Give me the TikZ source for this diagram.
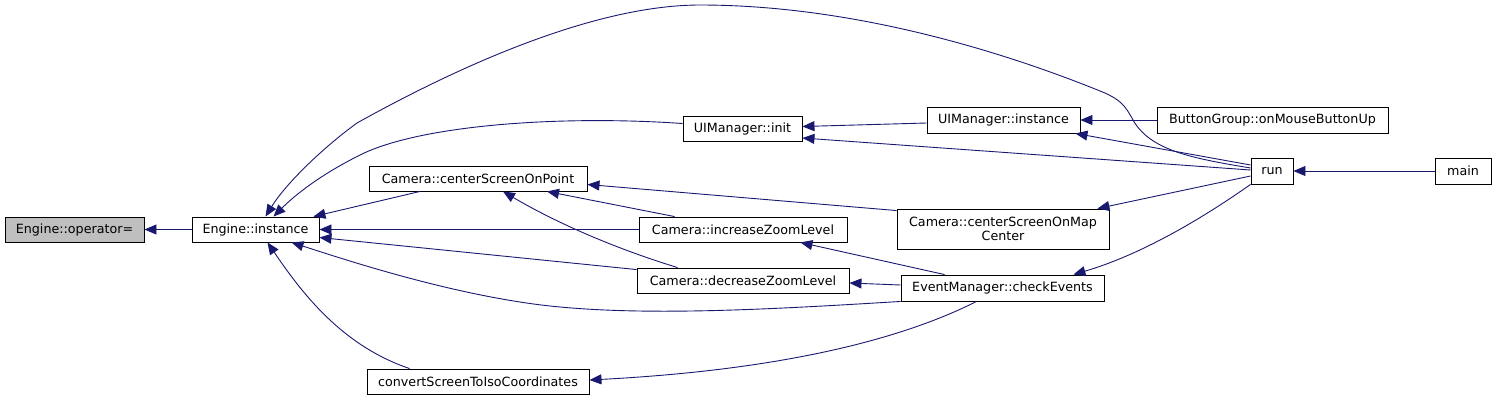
\documentclass[tikz,border=0pt]{standalone}
\usepackage{fontspec}
\setmainfont{DejaVu Sans}
\usetikzlibrary{arrows.meta,calc}
\definecolor{edgeblue}{HTML}{191970}
\definecolor{graybox}{HTML}{BFBFBF}
\begin{document}
\begin{tikzpicture}[x=1pt,y=-1pt,
  box/.style={draw=black,line width=0.9pt,fill=white,inner sep=0pt,
    font=\fontsize{12.7}{14.5}\selectfont,align=center},
  edge/.style={draw=edgeblue,line width=0.9pt,
    -{Triangle[length=12pt,width=10pt]}}]
\useasboundingbox (0,0) rectangle (1496,400);
% nodes
\node[box,fill=graybox,minimum width=139pt,minimum height=25pt] (opeq) at (74.5,229.5) {Engine::operator=};
\node[box,minimum width=127pt,minimum height=25pt] (einst) at (255.5,229.5) {Engine::instance};
\node[box,minimum width=119pt,minimum height=25pt] (uinit) at (742.5,128.5) {UIManager::init};
\node[box,minimum width=218pt,minimum height=25pt] (cpoint) at (478,178.5) {Camera::centerScreenOnPoint};
\node[box,minimum width=208pt,minimum height=25pt] (incz) at (743,229.5) {Camera::increaseZoomLevel};
\node[box,minimum width=212pt,minimum height=25pt] (decz) at (743,280.5) {Camera::decreaseZoomLevel};
\node[box,minimum width=153pt,minimum height=26pt] (uinst) at (1003.5,120) {UIManager::instance};
\node[box,minimum width=231pt,minimum height=26pt] (bg) at (1272.5,120) {ButtonGroup::onMouseButtonUp};
\node[box,minimum width=42pt,minimum height=26pt] (run) at (1272,171) {run};
\node[box,minimum width=56pt,minimum height=26pt] (main) at (1463,171) {main};
\node[box,minimum width=212pt,minimum height=40pt] (mapc) at (1003,229) {Camera::centerScreenOnMap\\Center};
\node[box,minimum width=203pt,minimum height=26pt] (chk) at (1002.5,288) {EventManager::checkEvents};
\node[box,minimum width=222pt,minimum height=25pt] (conv) at (478,381.5) {convertScreenToIsoCoordinates};
% edges (caller -> callee)
\draw[edge] (einst.west) -- (opeq.east);
\draw[edge] ($(run.west)+(0,-3)$) .. controls (1190,158) and (1150,150) .. (1133,120)
  .. controls (1125,105) and (1120,100) .. (1105,93)
  .. controls (1000,50) and (850,5) .. (700,5)
  .. controls (600,5) and (470,60) .. (357,123)
  .. controls (320,150) and (285,185) .. ($(einst.north)+(10,0)$);
\draw[edge] ($(uinit.west)+(0,-5)$) .. controls (560,115) and (420,125) .. (360,155)
  .. controls (320,175) and (295,195) .. ($(einst.north)+(18,0)$);
\draw[edge] ($(cpoint.south)+(-58,0)$) -- ($(einst.north east)+(-6,0)$);
\draw[edge] (incz.west) -- (einst.east);
\draw[edge] ($(decz.north west)+(0,2)$) -- ($(einst.east)+(0,8)$);
\draw[edge] (chk.south west) .. controls (760,310) and (620,318) .. (520,302)
  .. controls (430,288) and (340,258) .. ($(einst.south)+(36,0)$);
\draw[edge] ($(conv.north west)+(43,0)$) .. controls (340,345) and (300,290) .. ($(einst.south)+(12,0)$);
\draw[edge] ($(uinst.west)+(0,3)$) -- ($(uinit.east)+(0,-2)$);
\draw[edge] ($(run.west)+(0,-1)$) -- ($(uinit.east)+(0,9.5)$);
\draw[edge] (bg.west) -- (uinst.east);
\draw[edge] ($(run.west)+(0,-6)$) -- ($(uinst.south east)+(-5,0)$);
\draw[edge] (main.west) -- (run.east);
\draw[edge] ($(mapc.north west)+(0,2)$) -- ($(cpoint.east)+(0,6)$);
\draw[edge] ($(incz.north west)+(36,0)$) -- ($(cpoint.south)+(69,0)$);
\draw[edge] ($(decz.north west)+(41,0)$) .. controls (620,250) and (560,225) .. ($(cpoint.south)+(25,0)$);
\draw[edge] ($(run.west)+(0,5)$) -- ($(mapc.north east)+(-12,0)$);
\draw[edge] ($(chk.north west)+(44,0)$) -- ($(incz.south east)+(-47,0)$);
\draw[edge] ($(chk.west)+(0,-3)$) -- ($(decz.east)+(0,2.5)$);
\draw[edge] (run.south west) .. controls (1200,220) and (1140,255) .. ($(chk.north east)+(-31,0)$);
\draw[edge] ($(chk.south west)+(76,0)$) .. controls (900,340) and (780,370) .. ($(conv.east)+(0,-1.5)$);
\end{tikzpicture}
\end{document}
